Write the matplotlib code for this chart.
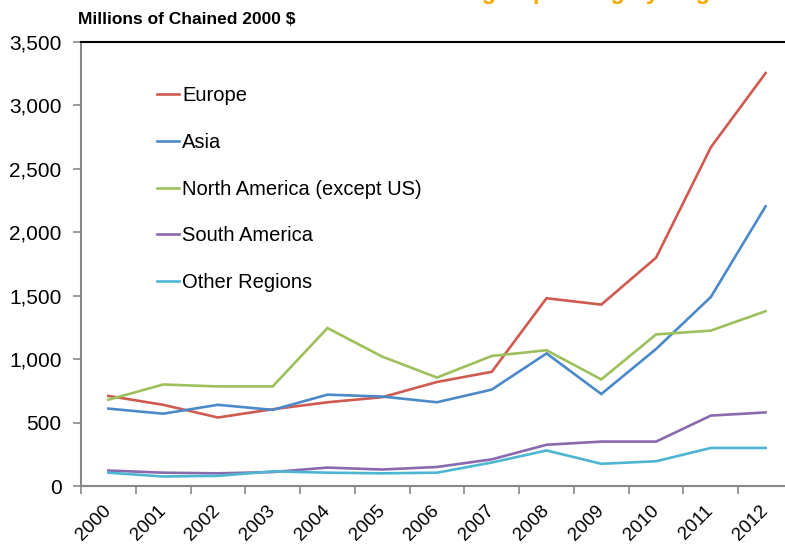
import matplotlib
matplotlib.use("Agg")
import matplotlib.pyplot as plt
from matplotlib.ticker import FuncFormatter, FixedLocator

plt.rcParams['font.family'] = ['Liberation Sans', 'DejaVu Sans']

years = ['2000', '2001', '2002', '2003', '2004', '2005', '2006',
         '2007', '2008', '2009', '2010', '2011', '2012']
europe = [710, 640, 540, 605, 660, 700, 820, 900, 1480, 1430, 1800, 2670, 3255]
asia = [610, 570, 640, 600, 720, 705, 660, 760, 1045, 725, 1080, 1490, 2205]
north_america = [680, 800, 785, 785, 1245, 1020, 855, 1025, 1070, 840, 1195, 1225, 1378]
south_america = [122, 105, 100, 110, 145, 130, 150, 210, 325, 350, 350, 555, 580]
other_regions = [105, 75, 80, 115, 105, 100, 105, 185, 280, 175, 195, 300, 300]

series = [
    ('Europe', europe, '#cf5a50'),
    ('Asia', asia, '#4c89c8'),
    ('North America (except US)', north_america, '#9dc05c'),
    ('South America', south_america, '#8a6aae'),
    ('Other Regions', other_regions, '#4db6d3'),
]

W, H = 785, 544
fig = plt.figure(figsize=(W / 100, H / 100), dpi=100)
ax = fig.add_axes([81 / W, (H - 486) / H, (793 - 81) / W, (486 - 42) / H])

x = list(range(len(years)))
for name, vals, col in series:
    ax.plot(x, vals, color=col, lw=1.9, label=name, solid_joinstyle='miter')

ax.set_xlim(-0.5, len(years) - 0.5)
ax.set_ylim(0, 3500)

ax.yaxis.set_major_locator(FixedLocator(range(0, 3501, 500)))
ax.yaxis.set_major_formatter(FuncFormatter(lambda v, p: f'{int(v):,}'))
ax.tick_params(axis='y', direction='out', length=6, width=1.2, color='#888888',
               labelsize=15, pad=8)

ax.set_xticks(x)
ax.set_xticklabels(years, rotation=45, ha='right', va='center', rotation_mode='anchor')
ax.set_xticks([i - 0.5 for i in range(len(years) + 1)], minor=True)
ax.tick_params(axis='x', which='major', length=0, labelsize=13.5, pad=16)
ax.tick_params(axis='x', which='minor', direction='out', length=6, width=1.2,
               color='#888888')

for s in ('left', 'bottom'):
    ax.spines[s].set_color('#888888')
    ax.spines[s].set_linewidth(1.5)
ax.spines['top'].set_color('black')
ax.spines['top'].set_linewidth(1.5)
ax.spines['right'].set_visible(False)

leg = ax.legend(loc='upper left', bbox_to_anchor=(157 / W, (H - 86) / H),
                bbox_transform=fig.transFigure, frameon=False, fontsize=14.5,
                handlelength=1.1, handletextpad=0.15, labelspacing=1.38,
                borderpad=0, borderaxespad=0)

fig.text(78 / W, (H - 20) / H, 'Millions of Chained 2000 $', fontsize=12.5,
         fontweight='bold', ha='left', va='center')

fig.text(585 / W, (H + 0.5) / H, 'Foreign Spending by Region', fontsize=17,
         fontweight='bold', color='#f5a800', ha='center', va='baseline')

fig.savefig('out.png', dpi=100)
